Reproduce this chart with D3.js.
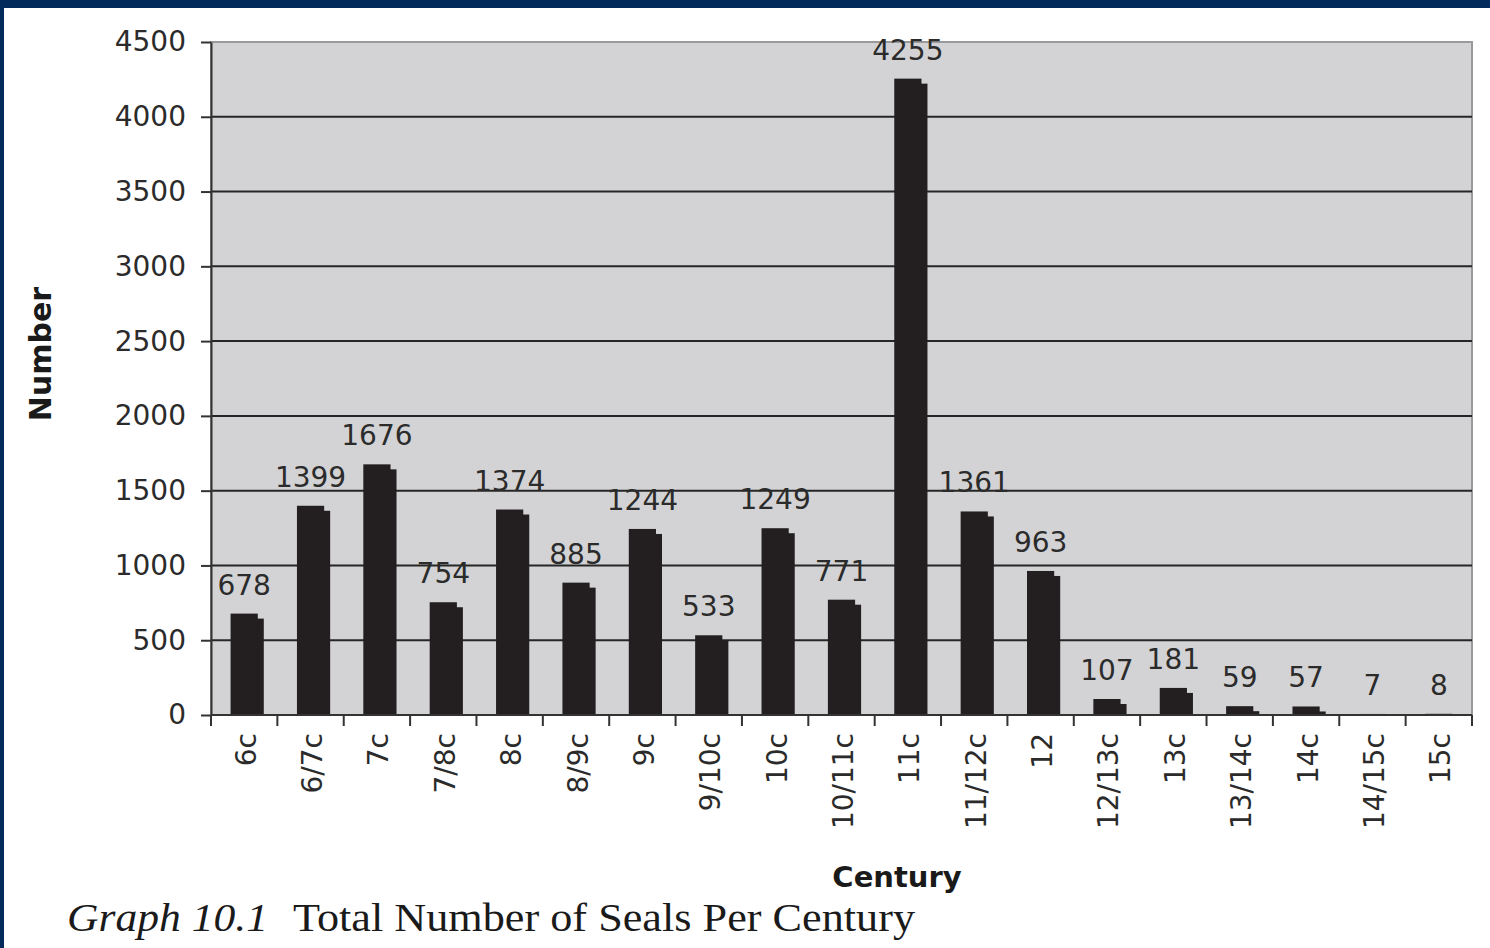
<!DOCTYPE html>
<html>
<head>
<meta charset="utf-8">
<script src="https://cdn.jsdelivr.net/npm/d3@7"></script>
<style>
  body { margin: 0; background: #fff; }
  .sans { font-family: "DejaVu Sans", Verdana, sans-serif; }
  .serif { font-family: "Liberation Serif", "Times New Roman", serif; }
</style>
</head>
<body>
<svg id="chart"></svg>
<script>
const centuries = ["6c", "6/7c", "7c", "7/8c", "8c", "8/9c", "9c", "9/10c", "10c", "10/11c",
    "11c", "11/12c", "12", "12/13c", "13c", "13/14c", "14c", "14/15c", "15c"];
const sealCounts = [678, 1399, 1676, 754, 1374, 885, 1244, 533, 1249, 771,
    4255, 1361, 963, 107, 181, 59, 57, 7, 8];
const yTicks = [0, 500, 1000, 1500, 2000, 2500, 3000, 3500, 4000, 4500];

const width = 1490, height = 948;
const plot = { left: 211, right: 1472, top: 42, bottom: 715 };

const svg = d3.select("#chart")
    .attr("width", width)
    .attr("height", height);

// frame of the page
svg.append("rect").attr("x", 0).attr("y", 0).attr("width", width).attr("height", 8).attr("fill", "#022b5b");
svg.append("rect").attr("x", 0).attr("y", 0).attr("width", 4).attr("height", height).attr("fill", "#022b5b");

const y = d3.scaleLinear()
    .domain([0, 4500])
    .range([plot.bottom, plot.top]);

const xCat = d3.scaleBand()
    .domain(centuries)
    .range([plot.left, plot.right])
    .padding(0);

const x = d3.scaleBand()
    .domain(centuries)
    .range([plot.left, plot.right])
    .paddingInner(0.59)
    .paddingOuter(0.295);

// plot background
svg.append("rect")
    .attr("x", plot.left)
    .attr("y", plot.top)
    .attr("width", plot.right - plot.left)
    .attr("height", plot.bottom - plot.top)
    .attr("fill", "#d3d3d5")
    .attr("stroke", "#9a9a9a")
    .attr("stroke-width", 2);

// gridlines
svg.selectAll(".grid")
    .data(yTicks.filter(d => d > 0 && d < 4500))
    .join("line")
    .attr("class", "grid")
    .attr("x1", plot.left)
    .attr("x2", plot.right)
    .attr("y1", d => y(d))
    .attr("y2", d => y(d))
    .attr("stroke", "#262626")
    .attr("stroke-width", 2);

// y axis
const yAxis = svg.append("g")
    .attr("transform", `translate(${plot.left},0)`)
    .call(d3.axisLeft(y).tickValues(yTicks).tickFormat(d3.format("d"))
        .tickSize(10).tickPadding(15).tickSizeOuter(0));
yAxis.select(".domain").attr("stroke", "#333").attr("stroke-width", 2);
yAxis.selectAll(".tick line").attr("stroke", "#333").attr("stroke-width", 2);
yAxis.selectAll(".tick text")
    .attr("class", "sans")
    .attr("font-family", null)
    .attr("font-size", 28)
    .attr("fill", "#2b2b2b");

// bars: shadow then front
const bars = svg.selectAll(".bar")
    .data(centuries.map((c, i) => ({ c: c, v: sealCounts[i] })))
    .join("g")
    .attr("class", "bar");

bars.append("rect")
    .attr("x", d => x(d.c) + 6)
    .attr("y", d => Math.min(y(d.v) + 5, plot.bottom))
    .attr("width", x.bandwidth())
    .attr("height", d => Math.max(plot.bottom - y(d.v) - 5, 0))
    .attr("fill", "#231f20");

bars.append("rect")
    .attr("x", d => x(d.c))
    .attr("y", d => y(d.v))
    .attr("width", x.bandwidth())
    .attr("height", d => plot.bottom - y(d.v))
    .attr("fill", "#231f20");

bars.append("text")
    .attr("class", "sans")
    .attr("x", d => x(d.c) + x.bandwidth() / 2)
    .attr("y", d => y(d.v) - 19)
    .attr("text-anchor", "middle")
    .attr("font-size", 28)
    .attr("fill", "#2b2b2b")
    .text(d => d.v);

// x axis
svg.append("line")
    .attr("x1", plot.left)
    .attr("x2", plot.right)
    .attr("y1", plot.bottom)
    .attr("y2", plot.bottom)
    .attr("stroke", "#333")
    .attr("stroke-width", 2);

svg.selectAll(".xtick")
    .data(centuries.map(c => xCat(c)).concat([plot.right]))
    .join("line")
    .attr("class", "xtick")
    .attr("x1", d => d)
    .attr("x2", d => d)
    .attr("y1", plot.bottom)
    .attr("y2", plot.bottom + 11)
    .attr("stroke", "#333")
    .attr("stroke-width", 2);

svg.selectAll(".xlabel")
    .data(centuries)
    .join("text")
    .attr("class", "xlabel sans")
    .attr("transform", d => `translate(${x(d) + x.bandwidth() / 2 + 2},733) rotate(-90)`)
    .attr("text-anchor", "end")
    .attr("dominant-baseline", "central")
    .attr("font-size", 28)
    .attr("fill", "#2b2b2b")
    .text(d => d);

// axis titles
svg.append("text")
    .attr("class", "sans")
    .attr("transform", "translate(40,354) rotate(-90)")
    .attr("text-anchor", "middle")
    .attr("dominant-baseline", "central")
    .attr("font-size", 30)
    .attr("font-weight", "bold")
    .attr("fill", "#1a1a1a")
    .text("Number");

svg.append("text")
    .attr("class", "sans")
    .attr("x", 897)
    .attr("y", 887)
    .attr("text-anchor", "middle")
    .attr("font-size", 29)
    .attr("font-weight", "bold")
    .attr("fill", "#1a1a1a")
    .text("Century");

// caption
svg.append("text")
    .attr("class", "serif")
    .attr("x", 67)
    .attr("y", 931)
    .attr("font-style", "italic")
    .attr("font-size", 41)
    .attr("fill", "#1a1a1a")
    .attr("textLength", 201)
    .attr("lengthAdjust", "spacingAndGlyphs")
    .text("Graph 10.1");

svg.append("text")
    .attr("class", "serif")
    .attr("x", 293)
    .attr("y", 931)
    .attr("font-size", 41)
    .attr("fill", "#1a1a1a")
    .attr("textLength", 622)
    .attr("lengthAdjust", "spacingAndGlyphs")
    .text("Total Number of Seals Per Century");
</script>
</body>
</html>
